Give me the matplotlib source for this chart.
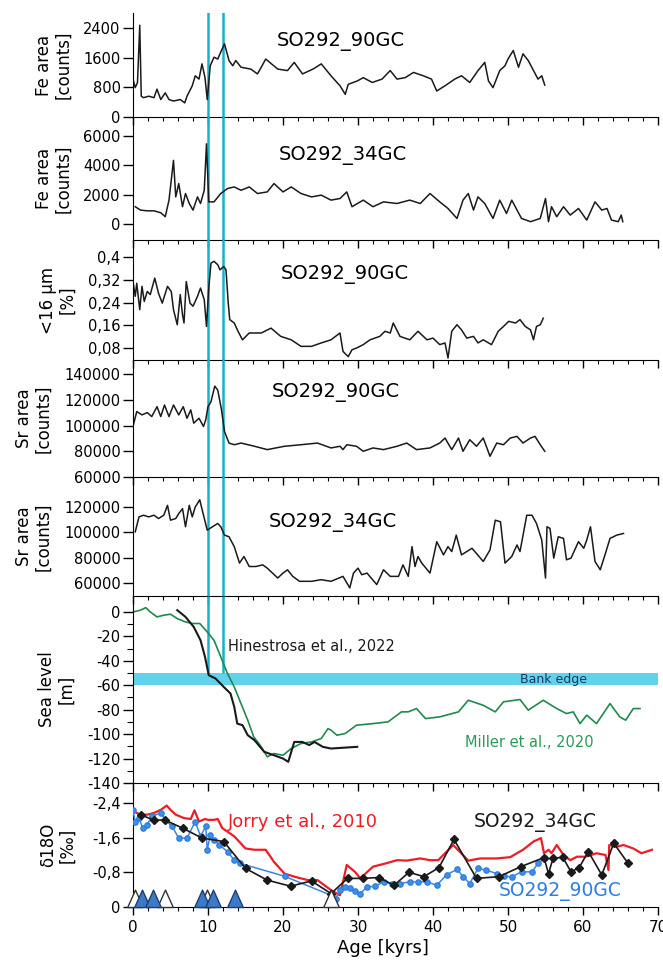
import matplotlib
matplotlib.use("Agg")
import matplotlib.pyplot as plt
from matplotlib.path import Path

plt.rcParams['font.family'] = ['DejaVu Sans']

# ---- data ----
event_ages = [10.0, 12.0]

fe90_age = [0.0, 0.3, 0.6, 0.9, 1.1, 1.4, 2.1, 2.8, 3.2, 3.7, 4.3, 4.8, 5.4, 6.3, 6.9, 7.2, 7.9, 8.3,
            8.8, 9.2, 9.6, 9.9, 10.3, 10.8, 11.3, 11.7, 12.2, 12.8, 13.3, 13.7, 14.4, 15.7, 16.6, 17.7,
            19.3, 20.6, 21.5, 22.6, 24.0, 25.1, 26.4, 27.6, 28.3, 28.7, 29.9, 30.7, 31.9, 33.2, 34.3,
            35.2, 36.3, 37.4, 38.7, 39.8, 40.5, 41.6, 42.9, 43.8, 44.9, 46.0, 46.9, 47.4, 48.0, 48.9,
            49.6, 50.0, 50.7, 51.4, 52.0, 52.7, 53.3, 54.0, 54.5, 54.9]
fe90_val = [1020, 790, 930, 2470, 560, 520, 560, 520, 750, 470, 650, 470, 430, 470, 380, 560, 840, 1110,
            1020, 1430, 1060, 470, 1380, 1610, 1560, 1750, 1970, 1520, 1380, 1520, 1340, 1290, 1160, 1560,
            1290, 1250, 1470, 1160, 1290, 1430, 1110, 840, 610, 880, 970, 1060, 930, 1020, 1250,
            1020, 1060, 1200, 1110, 1020, 700, 840, 1020, 1110, 930, 1250, 1470, 970, 790, 1250,
            1380, 1560, 1790, 1340, 1700, 1520, 1290, 1020, 1110, 860]

fe34_age = [0.3, 1.0, 1.9, 2.8, 3.7, 4.3, 4.8, 5.4, 5.7, 6.1, 6.6, 7.0, 7.5, 8.0, 8.6, 9.0, 9.5, 9.8,
            10.1, 10.8, 11.7, 12.6, 13.5, 14.4, 15.5, 16.6, 17.9, 18.8, 20.0, 21.1, 22.4, 23.8, 25.1,
            26.4, 27.6, 28.5, 29.2, 30.7, 32.0, 33.4, 35.2, 36.9, 38.3, 39.6, 40.9, 42.0, 43.2, 44.0,
            44.7, 45.4, 46.0, 46.9, 48.0, 48.9, 49.8, 50.5, 51.8, 53.0, 54.3, 55.0, 55.4, 55.8, 56.5,
            57.4, 58.3, 59.4, 60.5, 61.6, 62.5, 63.2, 63.8, 64.7, 65.1, 65.3]
fe34_val = [1180, 950, 900, 900, 770, 500, 1630, 4340, 1850, 2760, 1180, 2080, 1400, 950, 1850, 1400, 2300, 5470,
            1510, 1510, 2080, 2420, 2530, 2300, 2530, 2080, 2190, 2760, 2190, 2530, 2080, 1850, 1970,
            1630, 1740, 2190, 1180, 1630, 1180, 1510, 1400, 1630, 1400, 2080, 1510, 1060, 380, 1630,
            2080, 950, 1850, 1400, 380, 1630, 720, 1630, 380, 160, 380, 1740, 160, 1180, 500,
            1180, 610, 1060, 270, 1510, 950, 1060, 270, 160, 610, 160]

grain_age = [0.0, 0.3, 0.5, 0.9, 1.2, 1.5, 1.9, 2.3, 2.9, 3.4, 3.9, 4.6, 5.1, 5.4, 5.9, 6.3, 6.6, 6.8,
             7.1, 7.6, 8.0, 8.6, 9.0, 9.5, 9.8, 10.1, 10.4, 10.8, 11.3, 11.6, 12.1, 12.4, 12.7, 12.9,
             13.5, 14.0, 14.6, 15.5, 17.1, 18.4, 19.7, 21.1, 22.4, 23.8, 25.1, 26.4, 27.6, 28.0, 28.7,
             29.2, 29.8, 30.7, 31.6, 32.9, 33.6, 34.3, 34.7, 35.6, 36.9, 38.0, 39.2, 40.0, 40.9, 41.6,
             42.0, 42.5, 43.2, 43.8, 44.5, 45.4, 46.0, 46.7, 47.8, 48.7, 49.4, 50.1, 51.0, 51.6, 52.3,
             53.0, 53.4, 53.8, 54.3, 54.7]
grain_val = [0.314, 0.262, 0.308, 0.215, 0.297, 0.244, 0.279, 0.268, 0.326, 0.273, 0.238, 0.297, 0.279, 0.215,
             0.162, 0.268, 0.197, 0.168, 0.314, 0.238, 0.227, 0.262, 0.291, 0.250, 0.156, 0.291, 0.379, 0.385,
             0.373, 0.355, 0.367, 0.355, 0.238, 0.180, 0.168, 0.139, 0.109, 0.133, 0.133, 0.150, 0.121,
             0.109, 0.086, 0.086, 0.098, 0.109, 0.133, 0.068, 0.050, 0.074, 0.080, 0.092, 0.109, 0.121,
             0.139, 0.133, 0.168, 0.121, 0.109, 0.139, 0.109, 0.115, 0.092, 0.098, 0.045, 0.139, 0.162,
             0.144, 0.115, 0.121, 0.098, 0.109, 0.092, 0.139, 0.156, 0.174, 0.168, 0.180, 0.156, 0.144,
             0.109, 0.156, 0.162, 0.185]

sr90_age = [0.0, 0.5, 1.2, 1.9, 2.5, 3.2, 3.7, 4.2, 4.8, 5.4, 6.1, 6.7, 7.2, 7.7, 8.1, 8.8, 9.4, 9.7,
            10.0, 10.4, 10.9, 11.3, 11.8, 12.2, 12.8, 13.5, 14.4, 16.2, 17.9, 20.2, 22.4, 24.6, 26.4,
            27.6, 28.0, 28.5, 29.8, 30.7, 32.0, 33.4, 35.2, 36.5, 37.8, 39.6, 40.9, 41.6, 42.5, 43.4,
            44.0, 44.9, 45.8, 46.7, 47.6, 48.5, 49.4, 50.3, 51.2, 52.0, 53.0, 53.6, 54.3, 54.9]
sr90_val = [99300, 110900, 108300, 110100, 107000, 114700, 107000, 116000, 107000, 116000, 108300, 114700,
            105700, 112200, 101900, 105700, 99300, 104500, 114700, 118600, 130700, 127600, 112200, 95400,
            86400, 85100, 86400, 83900, 81300, 83900, 85100, 86400, 82600, 83900, 81300, 85100, 83900,
            80000, 82600, 81300, 83900, 86400, 81300, 82600, 86400, 90300, 81300, 90300, 80000, 89000,
            83900, 90300, 76100, 86400, 85100, 90300, 91600, 86400, 90300, 91600, 85100, 80000]

sr34_age = [0.3, 0.8, 1.4, 2.1, 2.8, 3.4, 4.1, 4.6, 5.0, 5.7, 6.1, 6.6, 7.0, 7.5, 7.9, 8.3, 8.9, 9.4,
            9.9, 10.6, 11.3, 11.7, 12.2, 12.8, 13.5, 14.2, 14.8, 15.5, 16.4, 17.3, 17.9, 19.3, 20.0,
            20.6, 21.3, 22.2, 23.8, 25.1, 26.4, 28.0, 28.9, 29.4, 30.0, 30.5, 31.2, 32.5, 33.4, 34.3,
            35.4, 36.0, 36.7, 37.2, 37.6, 38.0, 38.5, 39.6, 40.5, 41.4, 42.0, 42.5, 43.1, 43.8, 45.2,
            46.7, 47.6, 48.3, 49.0, 49.6, 50.5, 51.2, 51.6, 52.5, 53.2, 53.8, 54.5, 55.0, 55.2, 55.6,
            56.1, 56.7, 57.4, 57.8, 58.4, 59.4, 60.1, 60.5, 61.0, 61.6, 62.3, 63.0, 63.6, 64.5, 65.4]
sr34_val = [100400, 112200, 113500, 112200, 113500, 110900, 113500, 121300, 109600, 110900, 114800, 118700,
            104400, 121300, 112200, 120000, 125700, 113500, 101700, 104400, 107000, 104400, 97800, 96500,
            88700, 75700, 80900, 73000, 73000, 74300, 71700, 63900, 67800, 70400, 65200, 61300, 61300,
            62600, 61300, 65200, 56100, 67800, 71700, 66500, 67800, 58700, 70400, 65200, 65200, 74300,
            65200, 88700, 73000, 80900, 75700, 67800, 92600, 82200, 88700, 84800, 97800, 82200, 87400,
            77000, 86100, 109600, 108300, 75700, 80900, 90000, 84800, 113500, 113500, 107000, 93900,
            63900, 104400, 103100, 79600, 96500, 95200, 78300, 79600, 92600, 87400, 93900, 104400,
            77000, 70400, 83500, 95200, 97800, 99100]

miller_age = [0.0, 1.0, 1.7, 2.3, 3.2, 4.1, 5.0, 5.9, 7.0, 7.9, 8.9, 9.9, 10.8, 11.7, 12.6, 13.5, 14.4,
              15.3, 16.1, 17.1, 17.9, 18.8, 20.0, 21.1, 22.4, 23.8, 25.1, 26.0, 26.4, 27.2, 28.3, 29.8,
              32.0, 34.0, 35.8, 36.7, 37.8, 39.0, 40.9, 43.4, 44.7, 46.7, 48.3, 49.4, 51.6, 52.7, 54.7,
              56.5, 57.8, 58.7, 59.6, 60.5, 61.8, 63.6, 64.9, 65.7, 66.7, 67.6]
miller_val = [0.0, 1.4, 3.5, 0.0, -4.1, -2.7, -1.9, -5.5, -8.2, -9.5, -9.5, -16.4, -23.2, -36.8, -50.5,
              -61.4, -75.0, -88.6, -102.3, -110.4, -118.6, -115.9, -117.3, -111.8, -107.7, -106.4, -103.6,
              -95.5, -96.8, -100.9, -99.5, -92.7, -91.4, -90.0, -81.8, -81.8, -79.1, -87.3, -85.9, -81.8,
              -72.3, -76.4, -81.8, -73.6, -71.7, -80.4, -72.3, -79.1, -83.2, -81.8, -91.4, -84.5, -91.4,
              -75.0, -85.9, -88.6, -79.1, -79.1]

hines_age = [5.9, 7.0, 8.1, 9.0, 9.6, 10.1, 11.0, 12.1, 13.0, 13.5, 13.9, 14.6, 15.3, 16.2, 17.5, 18.8,
             20.0, 20.7, 21.5, 22.6, 23.5, 24.2, 25.3, 26.4, 29.9]
hines_val = [1.4, -4.1, -12.3, -23.2, -36.8, -51.8, -54.5, -61.4, -66.8, -77.7, -91.4, -92.7, -100.9,
             -105.0, -114.5, -117.3, -120.0, -122.7, -106.4, -106.4, -109.0, -106.4, -110.4, -111.8, -110.4]

jorry_age = [0.0, 1.0, 1.9, 2.8, 3.7, 4.5, 5.0, 5.7, 6.8, 7.7, 8.2, 8.8, 9.6, 10.0, 10.8, 11.3, 11.9,
             13.5, 15.0, 16.2, 17.7, 18.8, 20.2, 21.5, 23.3, 24.6, 26.4, 27.6, 28.5, 29.6, 30.3, 32.0,
             33.8, 35.2, 36.5, 38.3, 39.6, 40.7, 42.7, 44.7, 46.3, 48.5, 50.3, 52.0, 53.4, 54.4, 54.8,
             55.4, 55.8, 56.5, 57.4, 58.3, 59.2, 60.3, 61.8, 63.0, 63.4, 63.5, 64.5, 65.4, 66.7, 67.8, 69.2]
jorry_val = [-2.21, -2.13, -2.13, -2.17, -2.24, -2.34, -2.24, -2.13, -2.05, -2.03, -2.23, -1.97, -2.03,
             -2.01, -2.01, -2.03, -1.82, -1.63, -1.35, -1.32, -1.32, -1.04, -0.77, -0.70, -0.62, -0.62,
             -0.39, -0.27, -0.97, -0.81, -0.66, -0.93, -1.01, -1.08, -1.07, -1.12, -1.08, -1.08, -1.43,
             -1.07, -1.12, -1.12, -1.15, -1.32, -1.51, -1.59, -1.24, -1.32, -1.24, -1.43, -1.20, -1.08,
             -1.16, -1.16, -1.24, -1.20, -0.85, -1.43, -1.39, -1.43, -1.35, -1.24, -1.32]

d34_age = [1.0, 2.8, 4.2, 6.6, 9.2, 12.1, 15.0, 17.9, 21.0, 23.8, 26.4, 28.6, 30.6, 32.8, 34.8, 36.8,
           38.8, 40.8, 42.8, 45.8, 48.8, 51.7, 54.8, 55.4, 56.0, 57.3, 58.4, 59.5, 60.7, 62.5, 64.1, 66.0]
d34_val = [-2.13, -2.00, -2.01, -1.82, -1.59, -1.51, -0.89, -0.62, -0.48, -0.60, -0.31, -0.66, -0.66,
           -0.68, -0.50, -0.80, -0.70, -0.91, -1.56, -0.66, -0.70, -0.93, -1.14, -0.77, -1.12, -1.15,
           -0.81, -0.91, -1.28, -0.74, -1.47, -1.01]

d90_age = [0.0, 0.3, 0.8, 1.3, 1.9, 2.5, 3.7, 4.3, 5.2, 6.1, 7.2, 8.3, 9.0, 9.7, 9.9, 10.3, 10.8, 11.5,
           12.6, 13.5, 14.2, 20.2, 26.4, 27.0, 27.6, 28.3, 28.9, 29.6, 30.3, 31.2, 32.3, 33.4, 34.5,
           35.6, 36.9, 38.0, 39.2, 40.5, 41.8, 43.2, 44.0, 44.9, 46.0, 47.1, 48.5, 49.4, 50.5, 51.8,
           53.2, 54.0, 54.9]
d90_val = [-2.23, -1.97, -2.05, -1.82, -1.90, -2.09, -2.17, -2.01, -1.86, -1.59, -1.59, -1.97, -1.63,
           -1.86, -1.32, -1.66, -1.55, -1.43, -1.28, -1.08, -1.01, -0.71, -0.27, -0.19, -0.39, -0.46,
           -0.43, -0.37, -0.31, -0.46, -0.48, -0.58, -0.54, -0.54, -0.58, -0.58, -0.58, -0.50, -0.74,
           -0.87, -0.70, -0.54, -0.89, -0.85, -0.77, -0.71, -0.70, -0.81, -0.81, -1.01, -1.12]

tri_white_age = [0.3, 4.3, 9.8, 26.4]
tri_blue_age = [1.2, 2.7, 9.2, 10.7, 13.6]

fe90_ticks = [0, 800, 1600, 2400]
fe34_ticks = [0, 2000, 4000, 6000]
grain_ticks = [0.08, 0.16, 0.24, 0.32, 0.4]
grain_labels = ['0,08', '0,16', '0,24', '0,32', '0,4']
sr90_ticks = [60000, 80000, 100000, 120000, 140000]
sr34_ticks = [60000, 80000, 100000, 120000]
sea_ticks = [0, -20, -40, -60, -80, -100, -120, -140]
d18o_ticks = [0, -0.8, -1.6, -2.4]
d18o_labels = ['0', '-0,8', '-1,6', '-2,4']
age_ticks = [0, 10, 20, 30, 40, 50, 60, 70]

# ---- layout ----
W, H = 663, 964
fig = plt.figure(figsize=(W / 100, H / 100), dpi=100)

def panel(top, bottom):
    ax = fig.add_axes([133 / W, 1 - bottom / H, 525 / W, (bottom - top) / H])
    ax.patch.set_alpha(0)
    ax.spines['top'].set_visible(False)
    ax.spines['right'].set_visible(False)
    ax.set_xlim(0, 70)
    ax.set_xticks(age_ticks)
    ax.set_xticks(range(0, 71, 2), minor=True)
    ax.tick_params(axis='x', which='major', direction='out', length=6, width=1)
    ax.tick_params(axis='x', which='minor', direction='out', length=3, width=0.8)
    ax.tick_params(axis='y', which='major', direction='out', length=7, width=1, labelsize=10.5, pad=2)
    ax.tick_params(axis='y', which='minor', direction='out', length=4, width=0.8)
    ax.tick_params(axis='x', labelbottom=False)
    return ax

def ylab(ax, text, xr):
    ax.set_ylabel(text, fontsize=12, linespacing=1.1)
    ax.yaxis.set_label_coords(xr, 0.5)

cyan = '#17b1c8'
blk = '#1a1a1a'

ax1 = panel(13, 117)
ax1.plot(fe90_age, fe90_val, color=blk, lw=1.1)
ax1.set_ylim(0, 2800)
ax1.set_yticks(fe90_ticks)
ax1.text(27.7, 2020, 'SO292_90GC', fontsize=14, ha='center', va='center')
ylab(ax1, 'Fe area\n[counts]', -0.116)

ax2 = panel(117, 240)
ax2.plot(fe34_age, fe34_val, color=blk, lw=1.1)
ax2.set_ylim(-1090, 7300)
ax2.set_yticks(fe34_ticks)
ax2.text(28.0, 4700, 'SO292_34GC', fontsize=14, ha='center', va='center')
ylab(ax2, 'Fe area\n[counts]', -0.116)

ax3 = panel(240, 360)
ax3.plot(grain_age, grain_val, color=blk, lw=1.1)
ax3.set_ylim(0.038, 0.46)
ax3.set_yticks(grain_ticks)
ax3.set_yticklabels(grain_labels)
ax3.text(28.3, 0.337, 'SO292_90GC', fontsize=14, ha='center', va='center')
ylab(ax3, '<16 µm\n[%]', -0.107)

ax4 = panel(360, 477)
ax4.plot(sr90_age, sr90_val, color=blk, lw=1.1)
ax4.set_ylim(60000, 151000)
ax4.set_yticks(sr90_ticks)
ax4.text(27.0, 125400, 'SO292_90GC', fontsize=14, ha='center', va='center')
ylab(ax4, 'Sr area\n[counts]', -0.154)

ax5 = panel(477, 596)
ax5.plot(sr34_age, sr34_val, color=blk, lw=1.1)
ax5.set_ylim(49700, 143700)
ax5.set_yticks(sr34_ticks)
ax5.text(26.7, 108000, 'SO292_34GC', fontsize=14, ha='center', va='center')
ylab(ax5, 'Sr area\n[counts]', -0.154)

for ax in (ax1, ax2, ax3, ax4, ax5):
    for a in event_ages:
        ax.axvline(a, color=cyan, lw=1.8, zorder=0.5)

ax6 = panel(596, 783)
ax6.set_ylim(-140, 13)
ax6.axhspan(-60, -50, color='#62d2ec', lw=0, zorder=0.2)
ax6.vlines(event_ages, -50, 13, color=cyan, lw=1.8, zorder=0.5)
ax6.plot(miller_age, miller_val, color='#1f8a4c', lw=1.2)
ax6.plot(hines_age, hines_val, color=blk, lw=1.5)
ax6.set_yticks(sea_ticks)
ax6.set_yticklabels([str(v) for v in sea_ticks])
ax6.set_yticks(range(-130, 10, 20), minor=True)
ax6.text(12.6, -28, 'Hinestrosa et al., 2022', fontsize=10.5, ha='left', va='center', color=blk)
ax6.text(56.0, -55, 'Bank edge', fontsize=9, ha='center', va='center', color='#173a5e')
ax6.text(52.8, -107, 'Miller et al., 2020', fontsize=10.5, ha='center', va='center', color='#2a9a5a')
ylab(ax6, 'Sea level\n[m]', -0.109)

ax7 = panel(783, 907)
ax7.set_ylim(0, -2.86)
ax7.plot(jorry_age, jorry_val, color='#ee1c25', lw=1.6, zorder=2)
ax7.plot(d90_age, d90_val, color='#3d86de', lw=1.1, marker='o', ms=3.8, mec='#2f7ee0',
         mfc='#3f8fe6', zorder=3)
ax7.plot(d34_age, d34_val, color=blk, lw=1.2, marker='D', ms=4.5, mfc=blk, mec=blk, zorder=4)
tri = Path([(-0.45, 0), (0.45, 0), (0, 1), (-0.45, 0)], closed=True)
ax7.plot(tri_white_age, [0] * len(tri_white_age), ls='none', marker=tri, ms=25, mfc='white',
         mec='#333333', mew=1.0, clip_on=False, zorder=5)
ax7.plot(tri_blue_age, [0] * len(tri_blue_age), ls='none', marker=tri, ms=25, mfc='#3c7ac8',
         mec='#1d3f6e', mew=1.0, clip_on=False, zorder=6)
ax7.set_yticks(d18o_ticks)
ax7.set_yticklabels(d18o_labels)
ax7.tick_params(axis='x', labelbottom=True, labelsize=11, pad=3)
ax7.text(12.7, -1.96, 'Jorry et al., 2010', fontsize=13, ha='left', va='center', color='#ee1c25')
ax7.text(53.6, -1.96, 'SO292_34GC', fontsize=13.5, ha='center', va='center', color=blk)
ax7.text(56.9, -0.35, 'SO292_90GC', fontsize=13.5, ha='center', va='center', color='#2f7ee0')
ylab(ax7, 'δ18O\n[‰]', -0.107)
ax7.set_xlabel('Age [kyrs]', fontsize=13)
ax7.xaxis.set_label_coords(0.476, -0.26)

fig.savefig('out.png', dpi=100)
